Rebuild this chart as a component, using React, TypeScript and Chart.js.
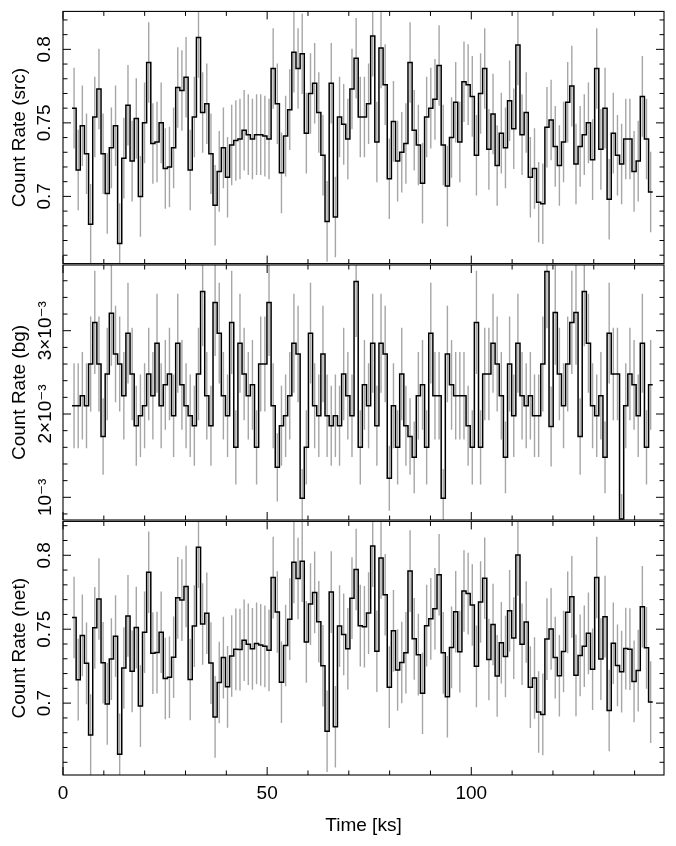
import React, { useEffect, useRef } from 'react';
import { Chart, registerables } from 'chart.js';

Chart.register(...registerables);

// ---- time binning (ks) ----
const TSTART = 2.2;   // left edge of first bin
const BIN = 1.016;    // bin width
const X_MIN = 0;
const X_MAX = 147.2;

// ---- source count rate (c/s) ----
const SRC = [
  0.760, 0.718, 0.748, 0.729, 0.681, 0.754, 0.773, 0.729, 0.702, 0.733,
  0.748, 0.668, 0.726, 0.762, 0.724, 0.753, 0.700, 0.750, 0.791, 0.736,
  0.737, 0.750, 0.719, 0.720, 0.733, 0.774, 0.772, 0.781, 0.718, 0.754,
  0.808, 0.757, 0.763, 0.729, 0.694, 0.717, 0.733, 0.713, 0.735, 0.738,
  0.739, 0.745, 0.742, 0.739, 0.742, 0.742, 0.741, 0.739, 0.787, 0.763,
  0.716, 0.741, 0.759, 0.798, 0.787, 0.797, 0.743, 0.770, 0.777, 0.757,
  0.728, 0.683, 0.777, 0.686, 0.754, 0.749, 0.739, 0.773, 0.794, 0.754,
  0.754, 0.763, 0.809, 0.737, 0.801, 0.776, 0.712, 0.751, 0.724, 0.730,
  0.736, 0.791, 0.745, 0.735, 0.709, 0.754, 0.760, 0.766, 0.789, 0.735,
  0.707, 0.740, 0.764, 0.737, 0.778, 0.776, 0.768, 0.728, 0.770, 0.787,
  0.732, 0.756, 0.721, 0.743, 0.733, 0.765, 0.746, 0.803, 0.742, 0.757,
  0.713, 0.719, 0.696, 0.695, 0.747, 0.752, 0.734, 0.721, 0.737, 0.764,
  0.775, 0.722, 0.734, 0.742, 0.750, 0.725, 0.787, 0.732, 0.760, 0.698,
  0.743, 0.728, 0.722, 0.739, 0.739, 0.717, 0.724, 0.768, 0.739, 0.703,
];
const SRC_ERR = 0.0274;

// ---- background count rate, in units of 1e-3 c/s ----
const BG_E3 = [
  2.10, 2.10, 2.22, 2.10, 2.60, 3.10, 2.60, 1.73, 2.48, 3.21,
  2.72, 2.60, 2.22, 2.97, 2.48, 1.86, 1.98, 2.10, 2.48, 2.22,
  2.85, 2.10, 2.35, 2.48, 1.98, 2.85, 2.35, 2.10, 1.98, 1.86,
  2.48, 3.47, 2.22, 1.86, 3.34, 2.97, 2.22, 1.98, 3.10, 1.60,
  2.85, 2.48, 2.22, 2.35, 1.60, 2.60, 2.60, 3.34, 2.10, 1.36,
  1.86, 1.98, 2.22, 2.85, 2.72, 0.99, 1.60, 2.97, 2.10, 1.98,
  2.72, 1.98, 1.86, 1.98, 1.86, 2.48, 2.22, 1.98, 3.59, 1.60,
  2.35, 2.10, 2.85, 1.86, 2.85, 2.72, 1.23, 2.10, 1.60, 2.48,
  1.86, 1.73, 1.48, 2.22, 2.35, 1.60, 2.97, 2.22, 2.22, 0.99,
  2.72, 2.35, 2.22, 2.22, 2.22, 1.86, 1.60, 3.10, 1.60, 2.48,
  2.48, 2.85, 2.60, 2.22, 1.48, 2.60, 1.98, 2.85, 2.22, 2.10,
  2.22, 1.98, 1.98, 2.60, 3.71, 1.85, 3.22, 2.48, 2.10, 2.60,
  3.10, 3.22, 1.73, 3.47, 2.85, 2.10, 1.98, 2.22, 1.48, 2.97,
  2.48, 2.48, 0.74, 2.10, 2.48, 2.35, 1.98, 2.85, 1.60, 2.35,
];
const BG_ERR_E3 = [
  0.51, 0.51, 0.525, 0.51, 0.57, 0.62, 0.57, 0.46, 0.555, 0.63,
  0.58, 0.57, 0.525, 0.605, 0.555, 0.48, 0.495, 0.51, 0.555, 0.525,
  0.595, 0.51, 0.54, 0.555, 0.495, 0.595, 0.54, 0.51, 0.495, 0.48,
  0.555, 0.655, 0.525, 0.48, 0.645, 0.605, 0.525, 0.495, 0.62, 0.445,
  0.595, 0.555, 0.525, 0.54, 0.445, 0.57, 0.57, 0.645, 0.51, 0.41,
  0.48, 0.495, 0.525, 0.595, 0.58, 0.35, 0.445, 0.605, 0.51, 0.495,
  0.58, 0.495, 0.48, 0.495, 0.48, 0.555, 0.525, 0.495, 0.665, 0.445,
  0.54, 0.51, 0.595, 0.48, 0.595, 0.58, 0.39, 0.51, 0.445, 0.555,
  0.48, 0.46, 0.43, 0.525, 0.54, 0.445, 0.605, 0.525, 0.525, 0.35,
  0.58, 0.54, 0.525, 0.525, 0.525, 0.48, 0.445, 0.62, 0.445, 0.555,
  0.555, 0.595, 0.57, 0.525, 0.43, 0.57, 0.495, 0.595, 0.525, 0.51,
  0.525, 0.495, 0.495, 0.57, 0.68, 0.48, 0.63, 0.555, 0.51, 0.57,
  0.62, 0.63, 0.46, 0.655, 0.595, 0.51, 0.495, 0.525, 0.43, 0.605,
  0.555, 0.555, 0.30, 0.51, 0.555, 0.54, 0.495, 0.595, 0.445, 0.54,
];

// ---- net count rate (c/s) ----
const NET = [
  0.7579, 0.7159, 0.7458, 0.7269, 0.6784, 0.7509, 0.7704, 0.7273, 0.6995, 0.7298,
  0.7453, 0.6654, 0.7238, 0.7590, 0.7215, 0.7511, 0.6980, 0.7479, 0.7885, 0.7338,
  0.7342, 0.7479, 0.7167, 0.7175, 0.7310, 0.7712, 0.7697, 0.7789, 0.7160, 0.7521,
  0.8055, 0.7535, 0.7608, 0.7271, 0.6907, 0.7140, 0.7308, 0.7110, 0.7319, 0.7364,
  0.7362, 0.7425, 0.7398, 0.7367, 0.7404, 0.7394, 0.7384, 0.7357, 0.7849, 0.7616,
  0.7141, 0.7390, 0.7568, 0.7952, 0.7843, 0.7960, 0.7414, 0.7670, 0.7749, 0.7550,
  0.7253, 0.6810, 0.7751, 0.6840, 0.7521, 0.7465, 0.7368, 0.7710, 0.7904, 0.7524,
  0.7517, 0.7609, 0.8062, 0.7351, 0.7982, 0.7733, 0.7108, 0.7489, 0.7224, 0.7275,
  0.7341, 0.7893, 0.7435, 0.7328, 0.7067, 0.7524, 0.7570, 0.7638, 0.7868, 0.7340,
  0.7043, 0.7377, 0.7618, 0.7348, 0.7758, 0.7741, 0.7664, 0.7249, 0.7684, 0.7845,
  0.7295, 0.7532, 0.7184, 0.7408, 0.7315, 0.7624, 0.7440, 0.8002, 0.7398, 0.7549,
  0.7108, 0.7170, 0.6940, 0.6924, 0.7433, 0.7502, 0.7308, 0.7185, 0.7349, 0.7614,
  0.7719, 0.7188, 0.7323, 0.7385, 0.7472, 0.7229, 0.7850, 0.7298, 0.7585, 0.6950,
  0.7405, 0.7255, 0.7213, 0.7369, 0.7365, 0.7147, 0.7220, 0.7652, 0.7374, 0.7007,
];
const NET_ERR = 0.0276;

// ---- axes ----
const SRC_RANGE = [0.6543, 0.8258];
const BG_RANGE = [0.7275, 3.789];
const NET_RANGE = [0.6514, 0.8229];
const RATE_TICK_STEP = 0.05;
const RATE_MINOR = 0.01;
const BG_TICK_STEP = 1;
const BG_MINOR = 0.2;
const BG_TICK_LABELS: Record<number, string> = { 1: '10⁻³', 2: '2×10⁻³', 3: '3×10⁻³' };
const X_TICK_STEP = 50;
const X_MINOR = 10;

const FONT = '"Liberation Sans", Arial, Helvetica, "DejaVu Sans", sans-serif';
const FONT_SIZE = 19;
const AXIS_LEFT = 63;
const RIGHT_PAD = 12;

function stepPoints(values: number[]) {
  const pts = values.map((v, i) => ({ x: TSTART + i * BIN, y: v }));
  pts.push({ x: TSTART + values.length * BIN, y: values[values.length - 1] });
  return pts;
}

function errorPoints(values: number[], err: number | number[]) {
  const pts: { x: number; y: number | null }[] = [];
  values.forEach((v, i) => {
    const e = typeof err === 'number' ? err : err[i];
    const t = TSTART + (i + 0.5) * BIN;
    pts.push({ x: t, y: v - e }, { x: t, y: v + e }, { x: t, y: null });
  });
  return pts;
}

const frameTicks = {
  id: 'frameTicks',
  afterDatasetsDraw(chart: any, _args: any, opts: any) {
    const { ctx, chartArea: a, scales } = chart;
    const xs = scales.x;
    const ys = scales.y;
    ctx.save();
    ctx.strokeStyle = '#000';
    ctx.lineWidth = 1.1;
    ctx.strokeRect(a.left, a.top, a.right - a.left, a.bottom - a.top);
    ctx.lineWidth = 1;
    ctx.beginPath();
    const minorLen = 4.5;
    const majorLen = 8;
    const k0x = Math.ceil(xs.min / X_MINOR - 1e-9);
    const k1x = Math.floor(xs.max / X_MINOR + 1e-9);
    for (let k = k0x; k <= k1x; k++) {
      const v = k * X_MINOR;
      const r = v / X_TICK_STEP;
      const len = Math.abs(r - Math.round(r)) < 1e-6 ? majorLen : minorLen;
      const px = xs.getPixelForValue(v);
      ctx.moveTo(px, a.bottom);
      ctx.lineTo(px, a.bottom - len);
      ctx.moveTo(px, a.top);
      ctx.lineTo(px, a.top + len);
    }
    const k0y = Math.ceil(ys.min / opts.yMinor - 1e-9);
    const k1y = Math.floor(ys.max / opts.yMinor + 1e-9);
    for (let k = k0y; k <= k1y; k++) {
      const v = k * opts.yMinor;
      const r = v / opts.yMajor;
      const len = Math.abs(r - Math.round(r)) < 1e-6 ? majorLen : minorLen;
      const py = ys.getPixelForValue(v);
      ctx.moveTo(a.left, py);
      ctx.lineTo(a.left + len, py);
      ctx.moveTo(a.right, py);
      ctx.lineTo(a.right - len, py);
    }
    ctx.stroke();
    ctx.restore();
  },
};

function measureWidest(labels: string[]) {
  const c = document.createElement('canvas').getContext('2d');
  if (!c) return 40;
  c.font = `${FONT_SIZE}px ${FONT}`;
  return Math.max(...labels.map((l) => c.measureText(l).width));
}

type Panel = {
  title: string;
  values: number[];
  err: number | number[];
  range: number[];
  step: number;
  minor: number;
  labels: (v: number) => string;
  labelList: string[];
  labelCenter: number;
  showX: boolean;
  bottomPad: number;
};

const rateLabel = (v: number) => String(Math.round(v * 100) / 100);

const PANELS: Panel[] = [
  {
    title: 'Count Rate (src)', values: SRC, err: SRC_ERR, range: SRC_RANGE,
    step: RATE_TICK_STEP, minor: RATE_MINOR, labels: rateLabel,
    labelList: ['0.7', '0.75', '0.8'], labelCenter: 44.5, showX: false, bottomPad: 10,
  },
  {
    title: 'Count Rate (bg)', values: BG_E3, err: BG_ERR_E3, range: BG_RANGE,
    step: BG_TICK_STEP, minor: BG_MINOR, labels: (v) => BG_TICK_LABELS[Math.round(v)] || '',
    labelList: Object.values(BG_TICK_LABELS), labelCenter: 46, showX: false, bottomPad: 10,
  },
  {
    title: 'Count Rate (net)', values: NET, err: NET_ERR, range: NET_RANGE,
    step: RATE_TICK_STEP, minor: RATE_MINOR, labels: rateLabel,
    labelList: ['0.7', '0.75', '0.8'], labelCenter: 44.5, showX: true, bottomPad: 0,
  },
];

function makeConfig(p: Panel): any {
  const font = { family: FONT, size: FONT_SIZE };
  const widest = measureWidest(p.labelList);
  const yPad = AXIS_LEFT - p.labelCenter - widest / 2;
  return {
    type: 'line',
    data: {
      datasets: [
        {
          data: stepPoints(p.values),
          stepped: 'before',
          borderColor: '#000',
          borderWidth: 1.5,
          pointRadius: 0,
          fill: false,
        },
        {
          data: errorPoints(p.values, p.err),
          borderColor: '#a6a6a6',
          borderWidth: 1.4,
          pointRadius: 0,
          spanGaps: false,
          fill: false,
        },
      ],
    },
    options: {
      responsive: false,
      animation: false,
      devicePixelRatio: 1,
      events: [],
      layout: { padding: { left: 0, right: RIGHT_PAD, top: 10, bottom: p.bottomPad } },
      plugins: {
        legend: { display: false },
        tooltip: { enabled: false },
        frameTicks: { yMinor: p.minor, yMajor: p.step },
      },
      scales: {
        x: {
          type: 'linear',
          min: X_MIN,
          max: X_MAX,
          display: p.showX,
          grid: { display: false, drawTicks: false },
          border: { display: false },
          ticks: {
            stepSize: X_TICK_STEP,
            includeBounds: false,
            autoSkip: false,
            maxRotation: 0,
            padding: 7,
            color: '#000',
            font,
            callback: (v: number) => String(v),
          },
          title: {
            display: true,
            text: 'Time [ks]',
            color: '#000',
            font,
            padding: { top: 0, bottom: 9 },
          },
          afterFit: (s: any) => { s.height = p.showX ? 71 : 0; },
        },
        y: {
          type: 'linear',
          min: p.range[0],
          max: p.range[1],
          grid: { display: false, drawTicks: false },
          border: { display: false },
          ticks: {
            stepSize: p.step,
            includeBounds: false,
            autoSkip: false,
            minRotation: 90,
            maxRotation: 90,
            crossAlign: 'center',
            padding: yPad,
            color: '#000',
            font,
            callback: (v: number) => p.labels(v),
          },
          title: {
            display: true,
            text: p.title,
            color: '#000',
            font,
            padding: { top: 8, bottom: 0 },
          },
          afterFit: (s: any) => { s.width = AXIS_LEFT; },
        },
      },
    },
    plugins: [frameTicks],
  };
}

const CANVAS_TOPS = [0, 255, 510];
const CANVAS_HEIGHTS = [275, 275, 336];

export default function App() {
  const r0 = useRef<HTMLCanvasElement>(null);
  const r1 = useRef<HTMLCanvasElement>(null);
  const r2 = useRef<HTMLCanvasElement>(null);
  useEffect(() => {
    const refs = [r0, r1, r2];
    const charts = PANELS.map((p, i) => new Chart(refs[i].current as HTMLCanvasElement, makeConfig(p)));
    return () => charts.forEach((c) => c.destroy());
  }, []);
  const refs = [r0, r1, r2];
  return (
    <div style={{ position: 'absolute', left: 0, top: 0, width: 676, height: 846, background: '#fff' }}>
      {refs.map((r, i) => (
        <canvas
          key={i}
          ref={r}
          width={676}
          height={CANVAS_HEIGHTS[i]}
          style={{ position: 'absolute', left: 0, top: CANVAS_TOPS[i], width: 676, height: CANVAS_HEIGHTS[i] }}
        />
      ))}
    </div>
  );
}
